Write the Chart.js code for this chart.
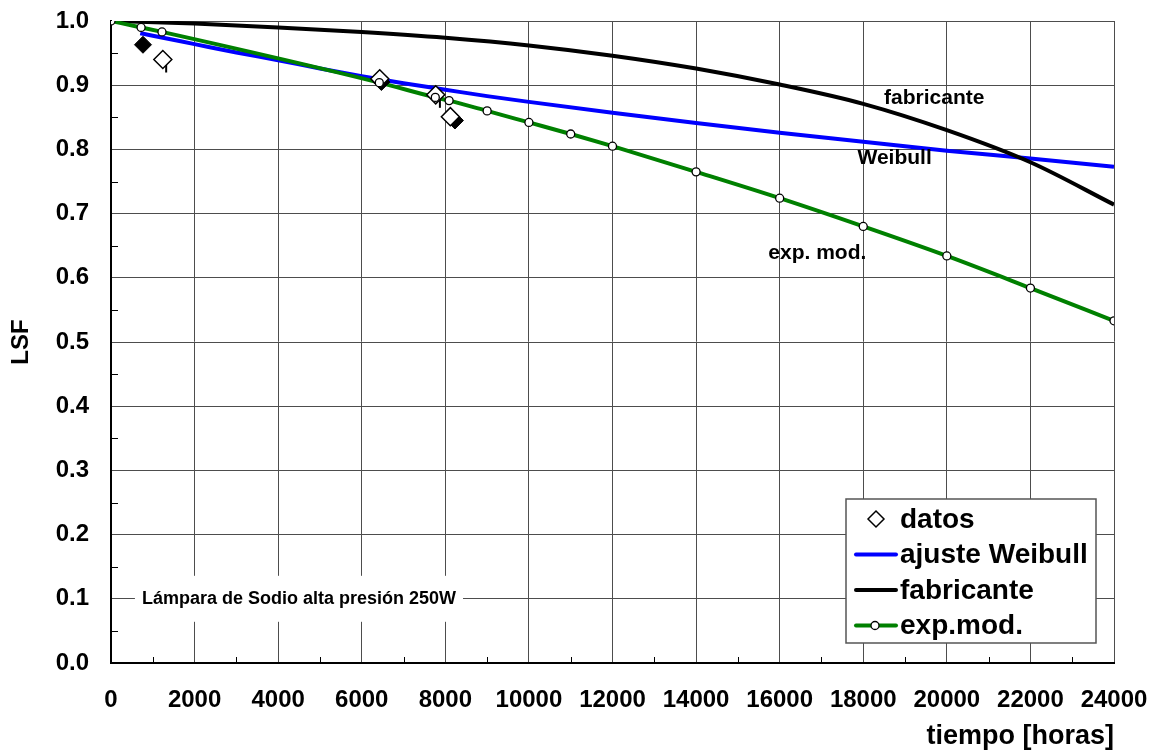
<!DOCTYPE html>
<html lang="es">
<head>
<meta charset="utf-8">
<title>LSF – Lámpara de Sodio alta presión 250W</title>
<script src="https://cdn.jsdelivr.net/npm/chart.js@4.4.1/dist/chart.umd.min.js"></script>
<style>
  html, body { margin: 0; padding: 0; background: #fff; }
  #wrap { width: 1152px; height: 754px; }
  canvas { display: block; }
</style>
</head>
<body>
<div id="wrap"><canvas id="grafico" width="1152" height="754"></canvas></div>
<script>
// Horas de funcionamiento y factor de supervivencia (LSF) de cada serie
const datosHoras = [1240, 6430, 7770, 8120];
const datosLSF = [0.940, 0.910, 0.885, 0.851];

const datosRellenoHoras = [765, 6470, 8230];
const datosRellenoLSF = [0.963, 0.905, 0.845];

// Extremo inferior de la dispersión de algunas medidas
const dispersionHoras = [1320, 7870];
const dispersionLSF = [0.926, 0.871];

const weibullHoras = [700, 1000, 2000, 3000, 4000, 5000, 6000, 7000, 8000, 9000, 10000, 12000, 14000, 16000, 18000, 20000, 22000, 24000];
const weibullLSF = [0.981, 0.977, 0.964, 0.951, 0.939, 0.926, 0.914, 0.903, 0.893, 0.883, 0.874, 0.857, 0.841, 0.826, 0.812, 0.798, 0.786, 0.773];

const fabricanteHoras = [0, 2000, 4000, 6000, 8000, 10000, 12000, 14000, 16000, 18000, 20000, 22000, 24000];
const fabricanteLSF = [1.0, 0.996, 0.990, 0.983, 0.974, 0.962, 0.946, 0.926, 0.901, 0.871, 0.830, 0.780, 0.714];

const expModHoras = [0, 720, 1220, 6420, 7760, 8090, 9000, 10000, 11000, 12000, 14000, 16000, 18000, 20000, 22000, 24000];
const expModLSF = [1.0, 0.990, 0.983, 0.904, 0.881, 0.876, 0.860, 0.842, 0.824, 0.805, 0.765, 0.724, 0.680, 0.634, 0.584, 0.533];

// Marcas de los ejes
const xTickValues = [0, 2000, 4000, 6000, 8000, 10000, 12000, 14000, 16000, 18000, 20000, 22000, 24000];
const xTickLabels = ['0', '2000', '4000', '6000', '8000', '10000', '12000', '14000', '16000', '18000', '20000', '22000', '24000'];
const yTickValues = [0, 0.1, 0.2, 0.3, 0.4, 0.5, 0.6, 0.7, 0.8, 0.9, 1.0];
const yTickLabels = ['0.0', '0.1', '0.2', '0.3', '0.4', '0.5', '0.6', '0.7', '0.8', '0.9', '1.0'];
const xMinorTicks = [1000, 3000, 5000, 7000, 9000, 11000, 13000, 15000, 17000, 19000, 21000, 23000];
const yMinorTicks = [0.05, 0.15, 0.25, 0.35, 0.45, 0.55, 0.65, 0.75, 0.85, 0.95];

const FONT = '"Liberation Sans", Arial, Helvetica, sans-serif';
const AZUL = '#0000ff';
const VERDE = '#008000';
const NEGRO = '#000000';

const puntos = (xs, ys) => xs.map((h, i) => ({ x: h, y: ys[i] }));

// Rótulos sobre el área de trazado (posición en unidades de los ejes)
const rotulos = [
  { texto: 'fabricante', horas: 19700, lsf: 0.879, size: 21 },
  { texto: 'Weibull', horas: 18750, lsf: 0.787, size: 21 },
  { texto: 'exp. mod.', horas: 16900, lsf: 0.638, size: 21 }
];
const rotuloLampara = { texto: 'Lámpara de Sodio alta presión 250W', horas: 740, lsf: 0.1, size: 18 };

// Los ejes no reservan margen extra: el área de trazado queda fijada por layout.padding
const sinRelleno = s => { s.paddingTop = 0; s.paddingBottom = 0; s.paddingLeft = 0; s.paddingRight = 0; };

const decoracion = {
  id: 'decoracion',
  beforeDatasetsDraw(chart) {
    const { ctx, chartArea: a, scales: { x, y } } = chart;
    ctx.save();
    ctx.strokeStyle = NEGRO;
    ctx.lineWidth = 1;
    for (const v of xMinorTicks) {
      const px = Math.round(x.getPixelForValue(v)) + 0.5;
      ctx.beginPath(); ctx.moveTo(px, a.bottom); ctx.lineTo(px, a.bottom - 6); ctx.stroke();
    }
    for (const v of yMinorTicks) {
      const py = Math.round(y.getPixelForValue(v)) + 0.5;
      ctx.beginPath(); ctx.moveTo(a.left, py); ctx.lineTo(a.left + 7, py); ctx.stroke();
    }
    // Recuadro blanco del rótulo de la lámpara
    ctx.font = `bold ${rotuloLampara.size}px ${FONT}`;
    const tx = x.getPixelForValue(rotuloLampara.horas);
    const ty = y.getPixelForValue(rotuloLampara.lsf);
    const w = ctx.measureText(rotuloLampara.texto).width;
    ctx.fillStyle = '#ffffff';
    ctx.fillRect(tx - 7, ty - 23, w + 14, 46);
    ctx.fillStyle = NEGRO;
    ctx.textAlign = 'left';
    ctx.textBaseline = 'middle';
    ctx.fillText(rotuloLampara.texto, tx, ty);
    ctx.restore();
  },
  afterDatasetsDraw(chart) {
    const { ctx, chartArea: a, scales: { x, y } } = chart;
    ctx.save();
    ctx.fillStyle = NEGRO;
    ctx.textAlign = 'center';
    ctx.textBaseline = 'middle';
    for (const r of rotulos) {
      ctx.font = `bold ${r.size}px ${FONT}`;
      ctx.fillText(r.texto, x.getPixelForValue(r.horas), y.getPixelForValue(r.lsf));
    }

    // Leyenda
    const items = chart.data.datasets.filter(d => d.leyenda);
    const bw = 250, rowH = 35.5;
    const bh = 144;
    const bx = a.right - 18 - bw;
    const by = a.bottom - 20 - bh;
    ctx.fillStyle = '#ffffff';
    ctx.fillRect(bx, by, bw, bh);
    ctx.strokeStyle = '#555555';
    ctx.lineWidth = 1.5;
    ctx.strokeRect(bx, by, bw, bh);
    ctx.font = `bold 28px ${FONT}`;
    ctx.textAlign = 'left';
    items.forEach((d, i) => {
      const cy = by + 20 + i * rowH;
      const x0 = bx + 10, x1 = bx + 50, xc = (x0 + x1) / 2;
      if (d.leyenda === 'diamante') {
        ctx.beginPath();
        ctx.moveTo(xc - 8, cy); ctx.lineTo(xc, cy - 8); ctx.lineTo(xc + 8, cy); ctx.lineTo(xc, cy + 8); ctx.closePath();
        ctx.fillStyle = '#ffffff'; ctx.fill();
        ctx.strokeStyle = NEGRO; ctx.lineWidth = 1.5; ctx.stroke();
      } else {
        ctx.beginPath(); ctx.moveTo(x0, cy); ctx.lineTo(x1, cy);
        ctx.strokeStyle = d.borderColor; ctx.lineWidth = 4; ctx.lineCap = 'round'; ctx.stroke();
        if (d.leyenda === 'lineaCirculo') {
          ctx.beginPath(); ctx.arc(xc - 1, cy, 4, 0, Math.PI * 2);
          ctx.fillStyle = '#ffffff'; ctx.fill();
          ctx.strokeStyle = NEGRO; ctx.lineWidth = 1.3; ctx.stroke();
        }
      }
      ctx.fillStyle = NEGRO;
      ctx.fillText(d.label, bx + 54, cy + 1);
    });
    ctx.restore();
  }
};

new Chart(document.getElementById('grafico'), {
  type: 'scatter',
  data: {
    datasets: [
      {
        label: 'datos', leyenda: 'diamante', order: 2,
        data: puntos(datosHoras, datosLSF), showLine: false,
        pointStyle: 'rectRot', pointRadius: 9, pointBorderWidth: 1.5,
        pointBackgroundColor: '#ffffff', pointBorderColor: NEGRO, borderColor: NEGRO
      },
      {
        label: 'datos (otra lámpara)', order: 3,
        data: puntos(datosRellenoHoras, datosRellenoLSF), showLine: false,
        pointStyle: 'rectRot', pointRadius: 8.5, pointBorderWidth: 1,
        pointBackgroundColor: NEGRO, pointBorderColor: NEGRO
      },
      {
        label: 'dispersión', order: 2.5,
        data: puntos(dispersionHoras, dispersionLSF), showLine: false,
        pointStyle: 'line', rotation: 90, pointRadius: 4, pointBorderWidth: 2,
        pointBorderColor: NEGRO
      },
      {
        label: 'ajuste Weibull', leyenda: 'linea', order: 5,
        data: puntos(weibullHoras, weibullLSF), showLine: true,
        borderColor: AZUL, borderWidth: 4, pointRadius: 0, cubicInterpolationMode: 'monotone'
      },
      {
        label: 'fabricante', leyenda: 'linea', order: 4.5,
        data: puntos(fabricanteHoras, fabricanteLSF), showLine: true,
        borderColor: NEGRO, borderWidth: 4, pointRadius: 0, cubicInterpolationMode: 'monotone'
      },
      {
        label: 'exp.mod.', leyenda: 'lineaCirculo', order: 4,
        data: puntos(expModHoras, expModLSF), showLine: true,
        borderColor: VERDE, borderWidth: 4, pointRadius: 0, cubicInterpolationMode: 'monotone'
      },
      {
        label: 'exp.mod. (puntos)', order: 1,
        data: puntos(expModHoras, expModLSF), showLine: false,
        pointStyle: 'circle', pointRadius: 4, pointBorderWidth: 1.3,
        pointBackgroundColor: '#ffffff', pointBorderColor: NEGRO
      }
    ]
  },
  options: {
    responsive: false,
    animation: false,
    devicePixelRatio: 1,
    layout: { padding: { top: 21, right: 38, left: 0, bottom: 0 } },
    plugins: { legend: { display: false }, tooltip: { enabled: false } },
    scales: {
      x: {
        type: 'linear', min: 0, max: 24000,
        afterBuildTicks: s => { s.ticks = xTickValues.map(v => ({ value: v })); },
        afterFit: s => { s.height = 91; sinRelleno(s); },
        ticks: {
          callback: (v) => xTickLabels[xTickValues.indexOf(v)],
          font: { family: FONT, size: 24, weight: 'bold' }, color: NEGRO,
          padding: 23, maxRotation: 0, autoSkip: false
        },
        grid: { color: '#4d4d4d', lineWidth: 1, drawTicks: false },
        border: { color: NEGRO, width: 2 },
        title: {
          display: true, text: 'tiempo [horas]', align: 'end', color: NEGRO,
          font: { family: FONT, size: 27, weight: 'bold' }, padding: { top: 0, bottom: 1 }
        }
      },
      y: {
        type: 'linear', min: 0, max: 1,
        afterBuildTicks: s => { s.ticks = yTickValues.map(v => ({ value: v })); },
        afterFit: s => { s.width = 111; sinRelleno(s); },
        ticks: {
          callback: (v) => yTickLabels[yTickValues.findIndex(t => Math.abs(t - v) < 1e-9)],
          font: { family: FONT, size: 24, weight: 'bold' }, color: NEGRO,
          padding: 22
        },
        grid: { color: '#4d4d4d', lineWidth: 1, drawTicks: false },
        border: { color: NEGRO, width: 2 },
        title: {
          display: true, text: 'LSF', color: NEGRO,
          font: { family: FONT, size: 24, weight: 'bold' }, padding: { top: 7, bottom: 0 }
        }
      }
    }
  },
  plugins: [decoracion]
});
</script>
</body>
</html>
